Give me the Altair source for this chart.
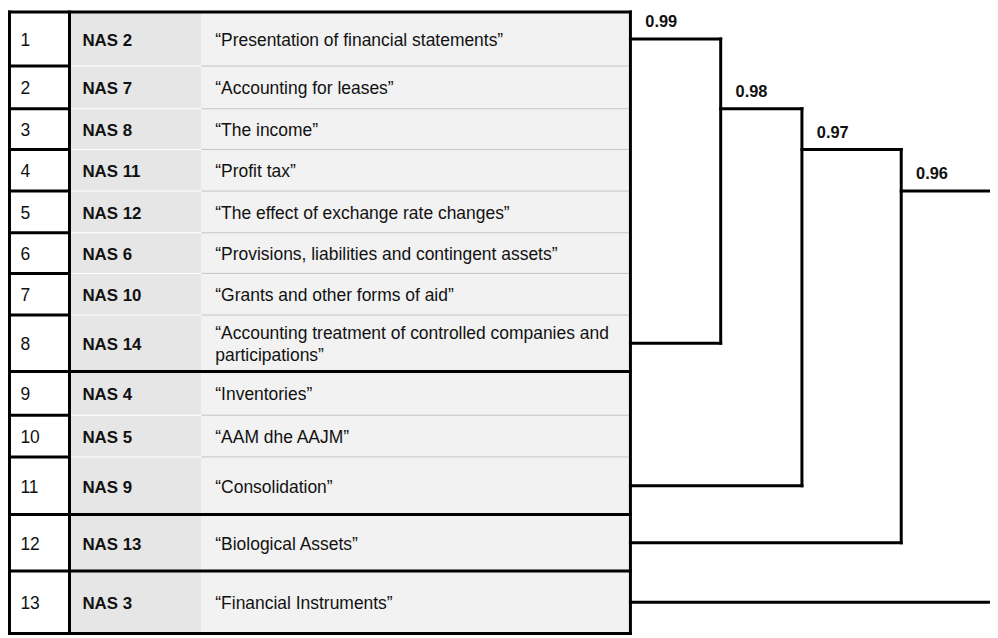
import altair as alt
import pandas as pd

# ---------------- data ----------------
row_no = list(range(1, 14))
codes = ["NAS 2", "NAS 7", "NAS 8", "NAS 11", "NAS 12", "NAS 6", "NAS 10",
         "NAS 14", "NAS 4", "NAS 5", "NAS 9", "NAS 13", "NAS 3"]
titles = [
    "“Presentation of financial statements”",
    "“Accounting for leases”",
    "“The income”",
    "“Profit tax”",
    "“The effect of exchange rate changes”",
    "“Provisions, liabilities and contingent assets”",
    "“Grants and other forms of aid”",
    "“Accounting treatment of controlled companies and\nparticipations”",
    "“Inventories”",
    "“AAM dhe AAJM”",
    "“Consolidation”",
    "“Biological Assets”",
    "“Financial Instruments”",
]
cluster_group = [1, 1, 1, 1, 1, 1, 1, 1, 2, 2, 2, 3, 4]

# dendrogram merges (similarity)
node_similarity = [0.990, 0.981, 0.970, 0.960]
node_label = ["0.99", "0.98", "0.97", "0.96"]
node_upper_child = [("row", 1), ("node", 0), ("node", 1), ("node", 2)]
node_lower_row = [8, 11, 12, 13]
node_link_row = [3, 4, 5, None]  # row whose top edge carries the link to the parent

# ---------------- layout ----------------
W, H = 990, 630
FONT = "Liberation Sans, Arial, sans-serif"
FS = 17.6
FS_BOLD = 17
LINE_H = 22
row_height = [54.5, 43, 41, 42, 42, 41, 42, 57, 44, 42, 58, 57, 63]
TOP = 1.5
col_edges = [1.5, 62, 195, 627.5]
col_fill = ["#ffffff", "#e6e6e6", "#f2f2f2"]

tops = []
acc = TOP
for h in row_height:
    tops.append(acc)
    acc += h
bottoms = [t + h for t, h in zip(tops, row_height)]
centers = [(t + b) / 2 for t, b in zip(tops, bottoms)]
n = len(row_no)

# cells
cells = []
for i in range(n):
    for c in range(3):
        cells.append(dict(x=col_edges[c], x2=col_edges[c + 1], y=tops[i], y2=bottoms[i], fill=col_fill[c]))
cells = pd.DataFrame(cells)

# separators
thin = []
thick = []
for i in range(n - 1):
    yb = bottoms[i]
    thick.append(dict(x=col_edges[0], x2=col_edges[1], y=yb, y2=yb))
    if cluster_group[i] == cluster_group[i + 1]:
        thin.append(dict(x=col_edges[1], x2=col_edges[2], y=yb, y2=yb, color="#ffffff"))
        thin.append(dict(x=col_edges[2], x2=col_edges[3], y=yb, y2=yb, color="#c4c4c4"))
    else:
        thick.append(dict(x=col_edges[1], x2=col_edges[3], y=yb, y2=yb))
thin = pd.DataFrame(thin)
thick.append(dict(x=col_edges[0], x2=col_edges[3], y=tops[0], y2=tops[0]))
thick.append(dict(x=col_edges[0], x2=col_edges[3], y=bottoms[-1], y2=bottoms[-1]))
thick.append(dict(x=col_edges[0], x2=col_edges[0], y=tops[0], y2=bottoms[-1]))
thick.append(dict(x=col_edges[1], x2=col_edges[1], y=tops[0], y2=bottoms[-1]))
thick.append(dict(x=col_edges[3], x2=col_edges[3], y=tops[0], y2=bottoms[-1]))
thick = pd.DataFrame(thick)

text_df = pd.DataFrame(dict(
    no=[str(r) for r in row_no], code=codes, yc=centers,
    xno=[col_edges[0]] * n, xcode=[col_edges[1]] * n,
))

# title lines (multi-line titles centred as a block in their row)
tl = []
for i, t in enumerate(titles):
    parts = t.split("\n")
    for j, p in enumerate(parts):
        tl.append(dict(line=p, x=col_edges[2], y=centers[i] + (j - (len(parts) - 1) / 2) * LINE_H))
title_df = pd.DataFrame(tl)

# dendrogram segments
def node_y(k):
    return tops[node_link_row[k] - 1]

def child_pos(ch):
    kind, idx = ch
    if kind == "row":
        return 1.0, centers[idx - 1]
    return node_similarity[idx], node_y(idx)

seg = []
lab = []
for k, s in enumerate(node_similarity):
    ux, uy = child_pos(node_upper_child[k])
    ly = centers[node_lower_row[k] - 1]
    seg.append(dict(s=ux, s2=s, y=uy, y2=uy))       # upper child link
    seg.append(dict(s=1.0, s2=s, y=ly, y2=ly))      # lower leaf link
    seg.append(dict(s=s, s2=s, y=uy, y2=ly))        # vertical join
    lab.append(dict(s=ux, y=uy, label=node_label[k]))
seg = pd.DataFrame(seg)
lab = pd.DataFrame(lab)

# ---------------- scales ----------------
xs = alt.Scale(domain=[0, W], nice=False, zero=False)
ys = alt.Scale(domain=[0, H], reverse=True, nice=False, zero=False)
ds = alt.Scale(domain=[1.0, 0.96], range=[col_edges[3], col_edges[3] + 364], nice=False, zero=False)

X = lambda f: alt.X(f, type="quantitative", scale=xs, axis=None)
Y = lambda f: alt.Y(f, type="quantitative", scale=ys, axis=None)

cell_layer = alt.Chart(cells).mark_rect(strokeWidth=0).encode(
    x=X("x"), x2="x2", y=Y("y"), y2="y2", fill=alt.Fill("fill:N", scale=None))

thin_layer = alt.Chart(thin).mark_rule(strokeWidth=1).encode(
    x=X("x"), x2="x2", y=Y("y"), y2="y2", color=alt.Color("color:N", scale=None))

thick_layer = alt.Chart(thick).mark_rule(strokeWidth=3, color="black", strokeCap="square").encode(
    x=X("x"), x2="x2", y=Y("y"), y2="y2")

no_layer = alt.Chart(text_df).mark_text(
    align="left", baseline="middle", dx=11, dy=2, font=FONT, fontSize=FS, color="#111").encode(
    x=X("xno"), y=Y("yc"), text="no:N")

code_layer = alt.Chart(text_df).mark_text(
    align="left", baseline="middle", dx=13, dy=2, font=FONT, fontSize=FS_BOLD, fontWeight="bold", color="#111").encode(
    x=X("xcode"), y=Y("yc"), text="code:N")

title_layer = alt.Chart(title_df).mark_text(
    align="left", baseline="middle", dx=14, dy=2, font=FONT, fontSize=FS, color="#111").encode(
    x=X("x"), y=Y("y"), text="line:N")

dendro_layer = alt.Chart(seg).mark_rule(strokeWidth=3, color="black", strokeCap="square").encode(
    x=alt.X("s:Q", scale=ds, axis=None), x2="s2", y=Y("y"), y2="y2")

label_layer = alt.Chart(lab).mark_text(
    align="left", baseline="middle", dx=15, dy=-17, font=FONT, fontSize=16.5, fontWeight="bold", color="#111").encode(
    x=alt.X("s:Q", scale=ds, axis=None), y=Y("y"), text="label:N")

table = alt.layer(cell_layer, thin_layer, thick_layer, no_layer, code_layer, title_layer)
dendro = alt.layer(dendro_layer, label_layer)

chart = alt.layer(table, dendro).resolve_scale(x="independent").properties(
    width=W, height=H, padding=0, autosize=alt.AutoSizeParams(type="none")
).configure_view(stroke=None)

chart.save("out.html", embed_options={"renderer": "svg", "actions": False})
